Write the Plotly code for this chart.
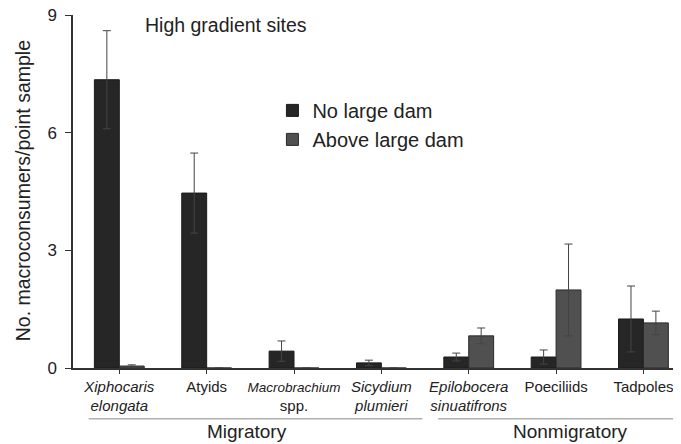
import plotly.graph_objects as go

categories = ["Xiphocaris elongata", "Atyids", "Macrobrachium spp.", "Sicydium plumieri",
              "Epilobocera sinuatifrons", "Poeciliids", "Tadpoles"]
tick_labels = [
    "<i>Xiphocaris</i><br><i>elongata</i>",
    "Atyids",
    "<span style='font-size:13.5px'><i>Macrobrachium</i></span><br>spp.",
    "<i>Sicydium</i><br><i>plumieri</i>",
    "<i>Epilobocera</i><br><i>sinuatifrons</i>",
    "Poeciliids",
    "Tadpoles",
]
no_dam = [7.35, 4.46, 0.43, 0.13, 0.28, 0.28, 1.25]
no_dam_err = [1.25, 1.02, 0.26, 0.07, 0.10, 0.18, 0.84]
above_dam = [0.05, 0.0, 0.0, 0.0, 0.82, 1.99, 1.15]
above_dam_err = [0.03, 0.0, 0.0, 0.0, 0.20, 1.17, 0.30]

groups = ["Migratory", "Nonmigratory"]
group_spans = [(0, 3), (4, 6)]
group_label_pos = [1.46, 5.16]

FONT = "Arial, Liberation Sans, Helvetica, sans-serif"
TXT = "#222222"
idx = list(range(len(categories)))

fig = go.Figure()
fig.add_trace(go.Bar(
    x=idx, y=no_dam, name="No large dam",
    marker=dict(color="#262626", line=dict(color="#1a1a1a", width=1)),
    error_y=dict(type="data", array=no_dam_err, color="#444444", thickness=1, width=4),
))
fig.add_trace(go.Bar(
    x=idx, y=above_dam, name="Above large dam",
    marker=dict(color="#505050", line=dict(color="#2a2a2a", width=1)),
    error_y=dict(type="data", array=above_dam_err, color="#444444", thickness=1, width=4),
))

shapes = []
annotations = []
for name, (a, b), lx in zip(groups, group_spans, group_label_pos):
    x0 = a - 0.35
    x1 = b + 0.47
    shapes.append(dict(type="line", xref="x", yref="paper", x0=x0, x1=x1, y0=-0.144, y1=-0.144,
                       line=dict(color="#888888", width=1)))
    annotations.append(dict(text=name, xref="x", yref="paper", x=lx, y=-0.181,
                            showarrow=False, xanchor="center", yanchor="middle",
                            font=dict(size=19, color=TXT, family=FONT)))
annotations.append(dict(text="High gradient sites", xref="paper", yref="paper",
                        x=0.115, y=0.972, xanchor="left", yanchor="middle", showarrow=False,
                        font=dict(size=19.5, color=TXT, family=FONT)))
annotations.append(dict(text="No. macroconsumers/point sample", xref="paper", yref="paper",
                        x=-0.082, y=0.501, xanchor="center", yanchor="middle", textangle=-90,
                        showarrow=False, font=dict(size=19.5, color=TXT, family=FONT)))

fig.update_layout(
    width=673, height=436,
    margin=dict(l=65, r=0, t=7, b=76, autoexpand=False),
    paper_bgcolor="white", plot_bgcolor="white",
    barmode="group", bargap=0.43, bargroupgap=0,
    font=dict(family=FONT, color=TXT),
    showlegend=True,
    legend=dict(x=0.328, y=0.785, xanchor="left", yanchor="top",
                font=dict(size=20, color=TXT, family=FONT),
                bgcolor="rgba(0,0,0,0)", itemwidth=30, tracegroupgap=4),
    shapes=shapes, annotations=annotations,
)
fig.update_xaxes(
    tickmode="array", tickvals=idx, ticktext=tick_labels,
    range=[-0.53, 6.43], showline=True, linecolor="#333333", linewidth=1.5,
    ticks="outside", tickson="boundaries", ticklen=4, tickcolor="#333333",
    tickfont=dict(size=15, color=TXT, family=FONT), showgrid=False, zeroline=False,
    automargin=False,
)
fig.update_yaxes(
    range=[0, 9], tickvals=[0, 3, 6, 9], showline=True, linecolor="#333333", linewidth=1.5,
    ticks="outside", ticklen=6, tickcolor="#333333", showgrid=False, zeroline=False,
    tickfont=dict(size=17, color=TXT, family=FONT), automargin=False,
    ticklabeloverflow="allow", ticklabelstandoff=5,
)
fig.write_html("out.html")
